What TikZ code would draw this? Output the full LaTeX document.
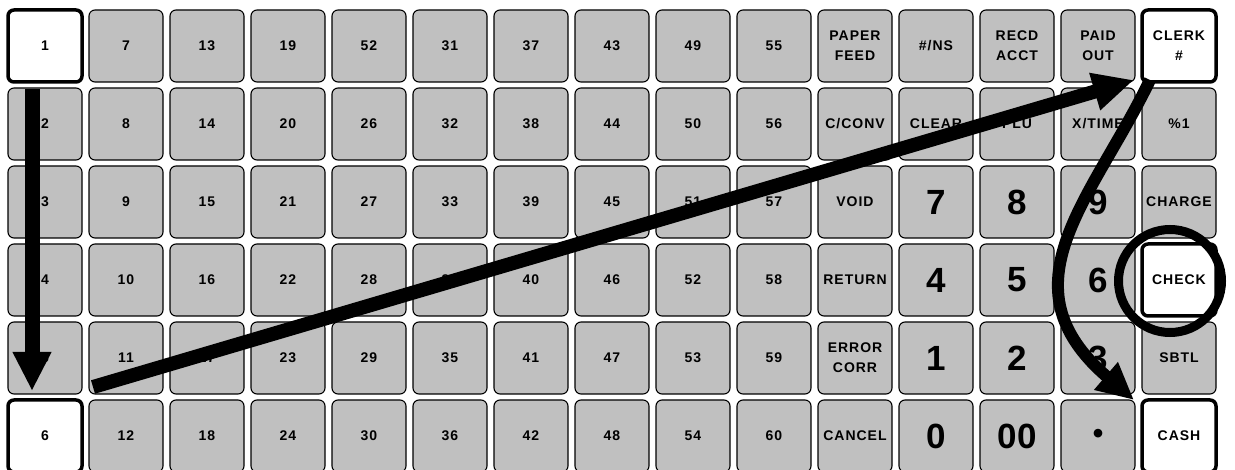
\documentclass[tikz,border=0pt]{standalone}
\usepackage{fontspec}
\setmainfont{Liberation Sans}
\newfontfamily\keyfont[LetterSpace=7]{Liberation Sans}
\usetikzlibrary{arrows.meta}
\definecolor{keygray}{HTML}{C0C0C0}
\newcommand\slsh{/}
\begin{document}
\begin{tikzpicture}[x=1pt,y=-1pt,
  keybox/.style={draw=black, line width=1.1pt, fill=keygray, rounded corners=6pt,
    minimum width=74pt, minimum height=72pt, inner sep=0pt, align=center,
    font=\keyfont\bfseries\fontsize{14}{20}\selectfont},
  whitekey/.style={keybox, fill=white, line width=3.5pt},
  bigkey/.style={keybox, font=\bfseries\fontsize{35}{35}\selectfont},
  dotkey/.style={keybox, font=\bfseries\fontsize{30}{30}\selectfont},
  bigbar/.style={line width=15pt, -{Triangle[length=39pt,width=36pt]}},
  diagbar/.style={line width=14pt, -{Triangle[length=41pt,width=36pt]}},
  curvebar/.style={line width=12pt, -{Triangle[length=37pt,width=34pt]}},
]
\useasboundingbox (0,0) rectangle (1235,470);
% row 1
\foreach \s/\t [count=\i from 0] in {whitekey/1,keybox/7,keybox/13,keybox/19,keybox/52,keybox/31,keybox/37,keybox/43,keybox/49,keybox/55,keybox/{PAPER\\FEED},keybox/{\#\slsh NS},keybox/{RECD\\ACCT},keybox/{PAID\\OUT},whitekey/{CLERK\\\#}}
  \node[\s] (k-0-\i) at (45+81*\i,46) {\t};
% row 2
\foreach \s/\t [count=\i from 0] in {keybox/2,keybox/8,keybox/14,keybox/20,keybox/26,keybox/32,keybox/38,keybox/44,keybox/50,keybox/56,keybox/{C\slsh CONV},keybox/CLEAR,keybox/PLU,keybox/{X\slsh TIME},keybox/{\%1}}
  \node[\s] (k-1-\i) at (45+81*\i,124) {\t};
% row 3
\foreach \s/\t [count=\i from 0] in {keybox/3,keybox/9,keybox/15,keybox/21,keybox/27,keybox/33,keybox/39,keybox/45,keybox/51,keybox/57,keybox/VOID,bigkey/7,bigkey/8,bigkey/9,keybox/CHARGE}
  \node[\s] (k-2-\i) at (45+81*\i,202) {\t};
% row 4
\foreach \s/\t [count=\i from 0] in {keybox/4,keybox/10,keybox/16,keybox/22,keybox/28,keybox/34,keybox/40,keybox/46,keybox/52,keybox/58,keybox/RETURN,bigkey/4,bigkey/5,bigkey/6,whitekey/CHECK}
  \node[\s] (k-3-\i) at (45+81*\i,280) {\t};
% row 5
\foreach \s/\t [count=\i from 0] in {keybox/5,keybox/11,keybox/17,keybox/23,keybox/29,keybox/35,keybox/41,keybox/47,keybox/53,keybox/59,keybox/{ERROR\\CORR},bigkey/1,bigkey/2,bigkey/3,keybox/SBTL}
  \node[\s] (k-4-\i) at (45+81*\i,358) {\t};
% row 6
\foreach \s/\t [count=\i from 0] in {whitekey/6,keybox/12,keybox/18,keybox/24,keybox/30,keybox/36,keybox/42,keybox/48,keybox/54,keybox/60,keybox/CANCEL,bigkey/0,bigkey/00,dotkey/•,whitekey/CASH}
  \node[\s] (k-5-\i) at (45+81*\i,436) {\t};
% arrows
\coordinate (v1) at (32,89);
\coordinate (v2) at (32,391);
\draw[bigbar] (v1) -- (v2);
\coordinate (d1) at (93,387);
\coordinate (d2) at (1134,80);
\draw[diagbar] (d1) -- (d2);
\coordinate (c1) at (1150,80);
\coordinate (c2) at (1134,400);
\draw[curvebar] (c1) .. controls (1092,200) and (1000,285) .. (c2);
\node[draw, circle, line width=9pt, minimum size=103pt, inner sep=0pt] (ring) at (1170,281) {};
\end{tikzpicture}
\end{document}
